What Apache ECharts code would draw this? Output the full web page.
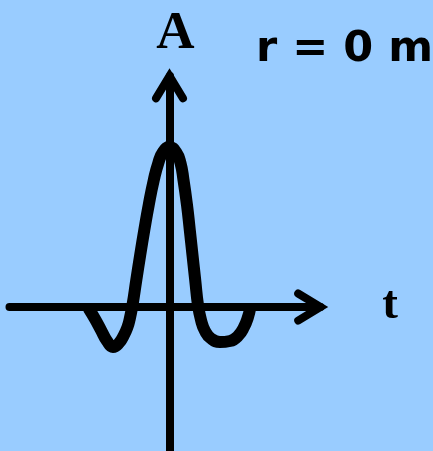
<!DOCTYPE html>
<html>
<head>
<meta charset="utf-8">
<script src="https://cdn.jsdelivr.net/npm/echarts@6/dist/echarts.min.js"></script>
<style>
  html, body { margin: 0; padding: 0; background: #99CCFF; }
  #chart { width: 433px; height: 451px; }
</style>
</head>
<body>
<div id="chart"></div>
<script>
// Time (t) values along the wavelet, arbitrary units
var tValues = [-8.05, -7.45, -6.85, -6.25, -5.65, -5.05, -4.55, -4.2, -4.0, -3.7, -3.32, -2.93, -2.52, -2.08, -1.57, -1.12, -0.65, 0, 0.65, 1.1, 1.4, 1.75, 2.03, 2.3, 2.57, 2.85, 3.15, 3.55, 4.15, 5.05, 6.05, 6.85, 7.45, 7.85, 8.05];
// Amplitude (A) values, peak normalised to 1
var aValues = [-0.0125, -0.075, -0.144, -0.2125, -0.25, -0.225, -0.175, -0.125, -0.081, 0.0125, 0.169, 0.325, 0.481, 0.6375, 0.794, 0.9, 0.969, 1.0, 0.969, 0.9, 0.794, 0.6375, 0.481, 0.325, 0.169, 0.0125, -0.081, -0.15, -0.197, -0.219, -0.2125, -0.181, -0.125, -0.0625, -0.0125];
var axisNames = { x: 't', y: 'A' };
var titleText = 'r = 0 m';

var seriesData = tValues.map(function (t, i) { return [t, aValues[i]]; });

var chevron = 'path://M0 -7.72L16.92 20.23A4 4 0 0 1 10.08 24.37L0 7.72L-10.08 24.37A4 4 0 0 1 -16.92 20.23Z';

function axisCommon() {
  return {
    type: 'value',
    axisLine: {
      show: true,
      onZero: true,
      lineStyle: { color: '#000', width: 8 },
      symbol: ['none', chevron],
      symbolSize: [35, 34.02],
      symbolOffset: [0, -9.29]
    },
    axisTick: { show: false },
    axisLabel: { show: false },
    splitLine: { show: false }
  };
}

var xAxis = axisCommon();
xAxis.min = -16; xAxis.max = 15.1;
var yAxis = axisCommon();
yAxis.min = -0.9; yAxis.max = 1.444;

var chart = echarts.init(document.getElementById('chart'), null, { renderer: 'canvas' });
chart.setOption({
  backgroundColor: '#99CCFF',
  animation: false,
  grid: { left: 9.5, right: 112.5, top: 76, bottom: 0, outerBoundsMode: 'none' },
  xAxis: xAxis,
  yAxis: yAxis,
  series: [{
    type: 'line',
    data: seriesData,
    showSymbol: false,
    smooth: 0.5,
    clip: false,
    lineStyle: { color: '#000', width: 12, cap: 'round', join: 'round' },
    z: 3
  }],
  graphic: [
    {
      type: 'text', x: 175.5, y: 34.5,
      style: { text: axisNames.y, font: 'bold 53px "Liberation Serif", "Times New Roman", serif', fill: '#000', align: 'center', verticalAlign: 'middle' }
    },
    {
      type: 'text', x: 390, y: 306,
      style: { text: axisNames.x, font: 'bold 47px "Liberation Serif", "Times New Roman", serif', fill: '#000', align: 'center', verticalAlign: 'middle' }
    },
    {
      type: 'text', x: 344.5, y: 50,
      style: { text: titleText, font: 'bold 43px "DejaVu Sans", sans-serif', fill: '#000', align: 'center', verticalAlign: 'middle' }
    }
  ]
});
</script>
</body>
</html>
